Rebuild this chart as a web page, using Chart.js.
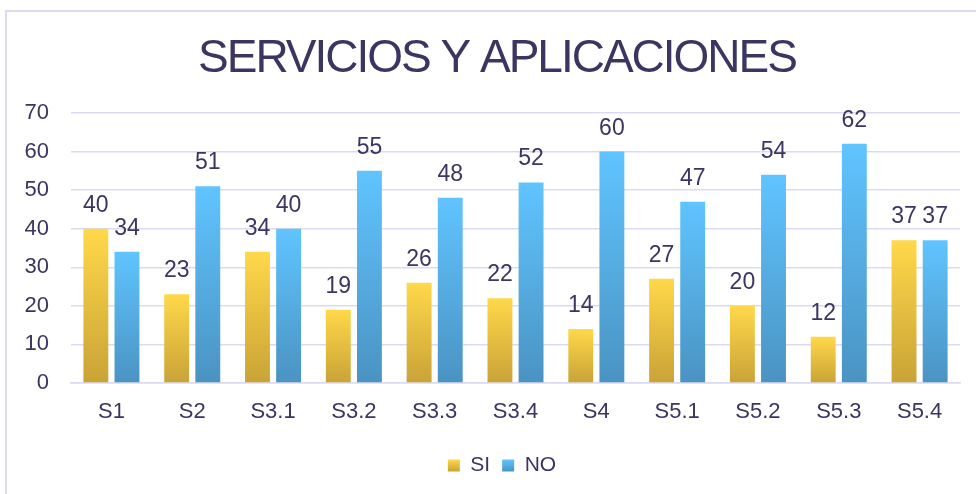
<!DOCTYPE html>
<html>
<head>
<meta charset="utf-8">
<script src="https://cdn.jsdelivr.net/npm/chart.js@4"></script>
<style>
  html, body { margin: 0; padding: 0; background: #fff; }
  #wrap { position: relative; width: 976px; height: 494px; overflow: hidden; }
  #frame { position: absolute; left: 5px; top: 10px; width: 990px; height: 500px;
           border-left: 2px solid #dcdaf0; border-top: 2px solid #dcdaf0; }
  canvas { position: absolute; left: 0; top: 0; }
</style>
</head>
<body>
<div id="wrap">
  <div id="frame"></div>
  <canvas id="chart" width="976" height="494"></canvas>
</div>
<script>
const title = "SERVICIOS Y APLICACIONES";
const categories = ["S1", "S2", "S3.1", "S3.2", "S3.3", "S3.4", "S4", "S5.1", "S5.2", "S5.3", "S5.4"];
const siValues = [40, 23, 34, 19, 26, 22, 14, 27, 20, 12, 37];
const noValues = [34, 51, 40, 55, 48, 52, 60, 47, 54, 62, 37];
const yTicks = [0, 10, 20, 30, 40, 50, 60, 70];

const textColor = "#3b3561";
const fontFamily = "'Liberation Sans', Arial, sans-serif";
const siColors = ["#ffd84a", "#c9a336"];
const noColors = ["#60c4ff", "#4a93c2"];

// per bar vertical gradient: light at the top, darker at the base
function barGradient(cols, flat) {
  return (c) => {
    const chart = c.chart;
    if (c.type !== "data" || !chart.chartArea || !chart.scales.y) return flat;
    const y = chart.scales.y;
    const y0 = y.getPixelForValue(c.raw);
    const y1 = y.getPixelForValue(0);
    if (!isFinite(y0) || y0 === y1) return flat;
    const g = chart.ctx.createLinearGradient(0, y0, 0, y1);
    g.addColorStop(0, cols[0]);
    g.addColorStop(1, cols[1]);
    return g;
  };
}

const valueLabels = {
  id: "valueLabels",
  afterDatasetsDraw(chart) {
    const ctx = chart.ctx;
    ctx.save();
    ctx.font = "23px " + fontFamily;
    ctx.fillStyle = textColor;
    ctx.textAlign = "center";
    ctx.textBaseline = "alphabetic";
    chart.data.datasets.forEach((ds, i) => {
      chart.getDatasetMeta(i).data.forEach((bar, j) => {
        ctx.fillText(ds.data[j], bar.x, bar.y - 17);
      });
    });
    ctx.restore();
  }
};

const bigTitle = {
  id: "bigTitle",
  afterDraw(chart) {
    const ctx = chart.ctx;
    ctx.save();
    ctx.font = "46px " + fontFamily;
    ctx.letterSpacing = "-2px";
    ctx.fillStyle = textColor;
    ctx.textAlign = "center";
    ctx.textBaseline = "alphabetic";
    ctx.fillText(title, 497, 72);
    ctx.restore();
  }
};

// the legend sits a bit right of the canvas centre in the original,
// and its swatches carry the same gradient as the bars
const legendTweak = {
  id: "legendTweak",
  afterLayout(chart) {
    chart.legend.left += 22;
    chart.legend.right += 22;
  },
  afterUpdate(chart) {
    const lg = chart.legend;
    const sets = [siColors, noColors];
    lg.legendItems.forEach((item, i) => {
      const hb = lg.legendHitBoxes[i];
      if (!hb) return;
      const mid = hb.top + hb.height / 2;
      const g = chart.ctx.createLinearGradient(0, mid - 6, 0, mid + 6);
      g.addColorStop(0, sets[i][0]);
      g.addColorStop(1, sets[i][1]);
      item.fillStyle = g;
    });
  }
};

new Chart(document.getElementById("chart").getContext("2d"), {
  type: "bar",
  data: {
    labels: categories,
    datasets: [
      {
        label: "SI",
        data: siValues,
        backgroundColor: barGradient(siColors, "#e6bf40"),
        categoryPercentage: 0.77,
        barPercentage: 0.8
      },
      {
        label: "NO",
        data: noValues,
        backgroundColor: barGradient(noColors, "#56acdf"),
        categoryPercentage: 0.77,
        barPercentage: 0.8
      }
    ]
  },
  options: {
    responsive: false,
    animation: false,
    layout: { padding: { top: 113, left: 0, right: 16, bottom: 8 } },
    scales: {
      y: {
        min: 0,
        max: 70,
        afterBuildTicks: (s) => { s.ticks = yTicks.map(v => ({ value: v })); },
        afterFit: (s) => { s.width = 71; },
        ticks: { color: textColor, font: { family: fontFamily, size: 22 }, padding: 22 },
        grid: { color: "#dcdaf0", lineWidth: 1.5, drawTicks: false },
        border: { display: false }
      },
      x: {
        afterFit: (s) => { s.height = 60; },
        ticks: { color: textColor, font: { family: fontFamily, size: 22 }, padding: 16 },
        grid: { display: false, drawTicks: false },
        border: { color: "#dcdaf0", width: 1.5 }
      }
    },
    plugins: {
      title: { display: false },
      tooltip: { enabled: false },
      legend: {
        position: "bottom",
        labels: {
          color: textColor,
          font: { family: fontFamily, size: 21 },
          boxWidth: 12,
          boxHeight: 12,
          padding: 12
        }
      }
    }
  },
  plugins: [valueLabels, bigTitle, legendTweak]
});
</script>
</body>
</html>
